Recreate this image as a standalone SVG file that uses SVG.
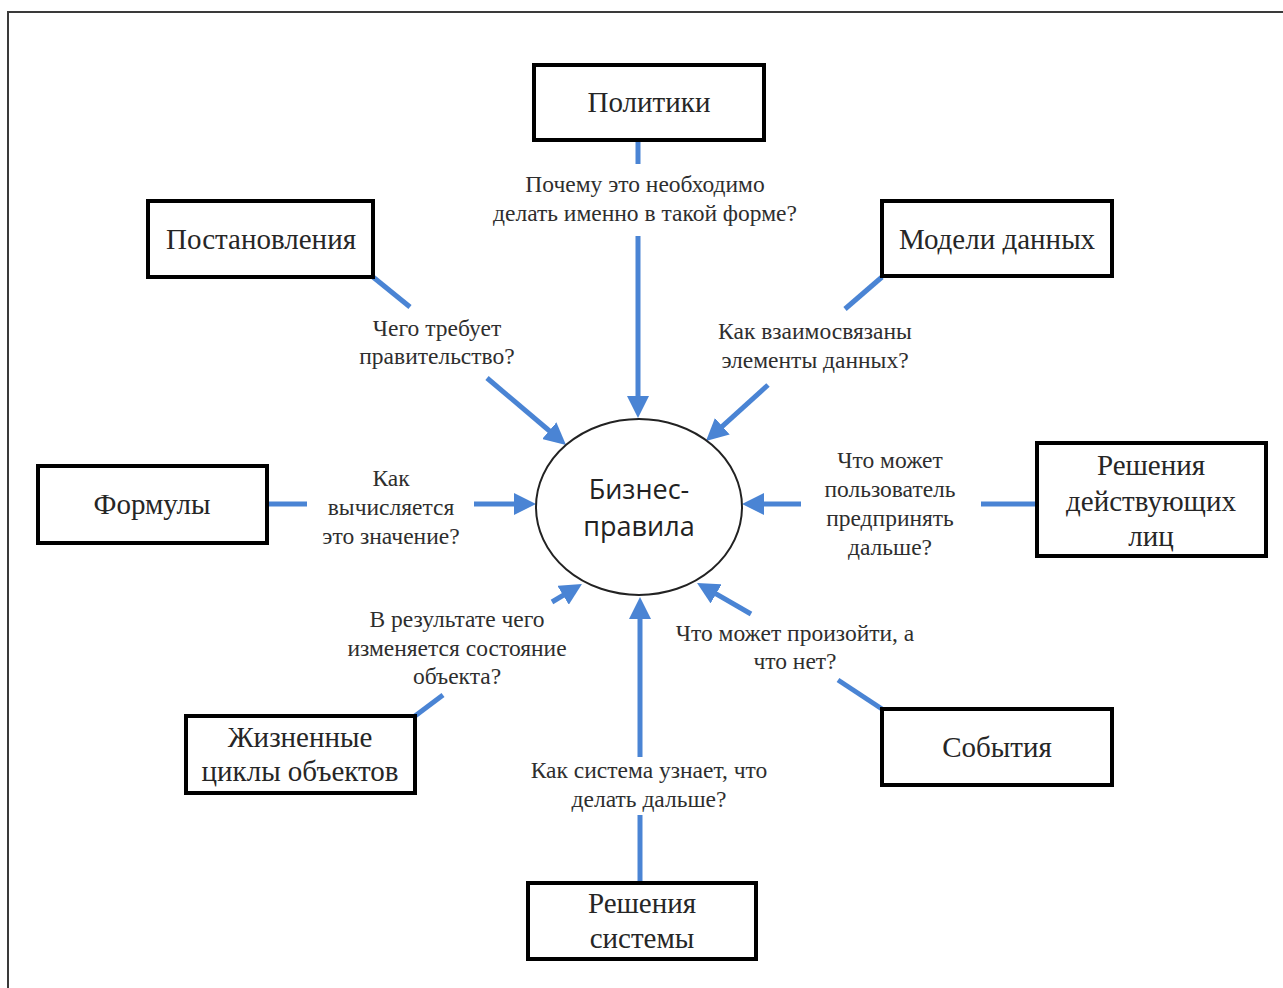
<svg xmlns="http://www.w3.org/2000/svg" width="1283" height="988" viewBox="0 0 1283 988">
  <style>
    .box { fill: #ffffff; stroke: #000000; stroke-width: 4; }
    .btxt { font-family: "Liberation Serif", "Times New Roman", serif; font-size: 29px; fill: #262626; text-anchor: middle; }
    .lbl { font-family: "Liberation Serif", "Times New Roman", serif; font-size: 23.5px; fill: #2e2e2e; text-anchor: middle; }
    .ctr { font-family: "Open Sans", "Noto Sans", sans-serif; font-size: 27px; fill: #222222; text-anchor: middle; }
    .con { stroke: #4a84d4; stroke-width: 5; fill: none; }
    .arr { stroke: #4a84d4; stroke-width: 5; fill: none; marker-end: url(#head); }
  </style>
  <defs>
    <marker id="head" viewBox="0 0 22 22" markerWidth="22" markerHeight="22" refX="12" refY="11" orient="auto" markerUnits="userSpaceOnUse">
      <path d="M0,0 L22,11 L0,22 z" fill="#4a84d4"/>
    </marker>
  </defs>

  <rect width="1283" height="988" fill="#ffffff"/>
  <!-- page frame -->
  <rect x="8" y="12" width="1300" height="1000" fill="none" stroke="#3a3a3a" stroke-width="2"/>

  <!-- connectors -->
  <g id="connectors">
    <line class="con" x1="638" y1="140" x2="638" y2="164"/>
    <line class="arr" x1="638" y1="236" x2="638" y2="408"/>

    <line class="con" x1="373" y1="277" x2="410" y2="307"/>
    <line class="arr" x1="487" y1="378" x2="558.4" y2="438.5"/>

    <line class="con" x1="882" y1="277" x2="845" y2="309"/>
    <line class="arr" x1="768" y1="385" x2="713.4" y2="434.3"/>

    <line class="con" x1="267" y1="504" x2="307" y2="504"/>
    <line class="arr" x1="474" y1="504" x2="526" y2="504"/>

    <line class="con" x1="1037" y1="504" x2="981" y2="504"/>
    <line class="arr" x1="801" y1="504" x2="752" y2="504"/>

    <line class="con" x1="415" y1="716" x2="443" y2="695"/>
    <line class="arr" x1="552" y1="602" x2="573.4" y2="589.1"/>

    <line class="con" x1="882" y1="709" x2="838" y2="680"/>
    <line class="arr" x1="751" y1="614" x2="705.7" y2="587.9"/>

    <line class="con" x1="640" y1="883" x2="640" y2="815"/>
    <line class="arr" x1="640" y1="757" x2="640" y2="607"/>
  </g>

  <!-- connector labels -->
  <g id="labels">
    <text class="lbl" x="645" y="192">Почему это необходимо</text>
    <text class="lbl" x="645" y="221">делать именно в такой форме?</text>

    <text class="lbl" x="437" y="336">Чего требует</text>
    <text class="lbl" x="437" y="364">правительство?</text>

    <text class="lbl" x="815" y="339">Как взаимосвязаны</text>
    <text class="lbl" x="815" y="368">элементы данных?</text>

    <text class="lbl" x="391" y="486">Как</text>
    <text class="lbl" x="391" y="515">вычисляется</text>
    <text class="lbl" x="391" y="544">это значение?</text>

    <text class="lbl" x="890" y="468">Что может</text>
    <text class="lbl" x="890" y="497">пользователь</text>
    <text class="lbl" x="890" y="526">предпринять</text>
    <text class="lbl" x="890" y="555">дальше?</text>

    <text class="lbl" x="457" y="627">В результате чего</text>
    <text class="lbl" x="457" y="656">изменяется состояние</text>
    <text class="lbl" x="457" y="684">объекта?</text>

    <text class="lbl" x="795" y="641">Что может произойти, а</text>
    <text class="lbl" x="795" y="669">что нет?</text>

    <text class="lbl" x="649" y="778">Как система узнает, что</text>
    <text class="lbl" x="649" y="807">делать дальше?</text>
  </g>

  <!-- central node -->
  <g id="node-center">
    <ellipse cx="639" cy="507" rx="103" ry="88" fill="#ffffff" stroke="#222222" stroke-width="2"/>
    <text class="ctr" x="639" y="499">Бизнес-</text>
    <text class="ctr" x="639" y="536">правила</text>
  </g>

  <g id="node-politiki">
    <rect class="box" x="534" y="65" width="230" height="75"/>
    <text class="btxt" x="649" y="112">Политики</text>
  </g>

  <g id="node-postanovleniya">
    <rect class="box" x="148" y="201" width="225" height="76"/>
    <text class="btxt" x="261" y="249">Постановления</text>
  </g>

  <g id="node-modeli">
    <rect class="box" x="882" y="201" width="230" height="75"/>
    <text class="btxt" x="997" y="249">Модели данных</text>
  </g>

  <g id="node-formuly">
    <rect class="box" x="38" y="466" width="229" height="77"/>
    <text class="btxt" x="152" y="514">Формулы</text>
  </g>

  <g id="node-resheniya-lits">
    <rect class="box" x="1037" y="443" width="229" height="113"/>
    <text class="btxt" x="1151" y="475">Решения</text>
    <text class="btxt" x="1151" y="511">действующих</text>
    <text class="btxt" x="1151" y="546">лиц</text>
  </g>

  <g id="node-zhiznennye">
    <rect class="box" x="186" y="716" width="229" height="77"/>
    <text class="btxt" x="300" y="747">Жизненные</text>
    <text class="btxt" x="300" y="781">циклы объектов</text>
  </g>

  <g id="node-sobytiya">
    <rect class="box" x="882" y="709" width="230" height="76"/>
    <text class="btxt" x="997" y="757">События</text>
  </g>

  <g id="node-resheniya-sistemy">
    <rect class="box" x="528" y="883" width="228" height="76"/>
    <text class="btxt" x="642" y="913">Решения</text>
    <text class="btxt" x="642" y="948">системы</text>
  </g>
</svg>
